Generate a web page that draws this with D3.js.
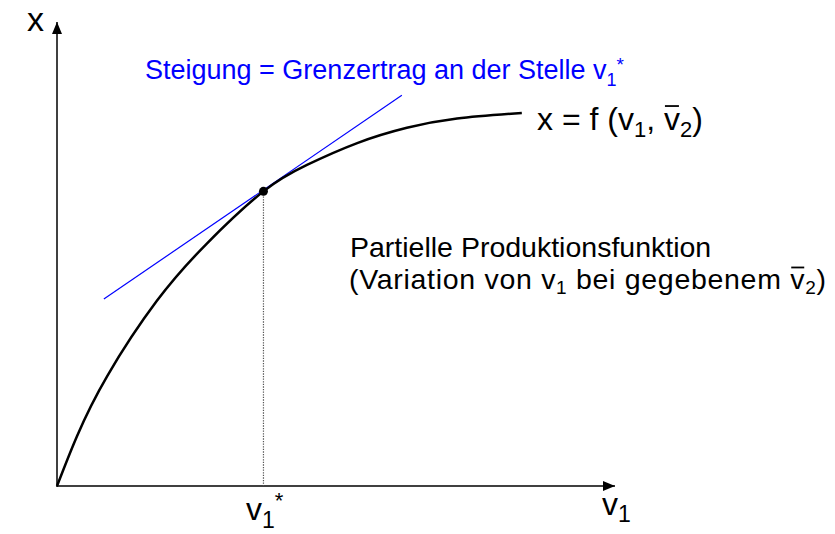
<!DOCTYPE html>
<html>
<head>
<meta charset="utf-8">
<script src="https://cdn.jsdelivr.net/npm/d3@7"></script>
<style>
  body { margin: 0; background: #fff; }
  text { font-family: "Liberation Sans", Arial, sans-serif; }
</style>
</head>
<body>
<div id="chart"></div>
<script>
// partial production function (v1 units, x units)
const curveV1 = [0, 0.36, 0.90, 1.79, 2.69, 3.70, 4.48, 5.38, 6.27, 7.17, 8.33];
const curveX  = [0, 1.08, 2.37, 3.99, 5.23, 6.35, 6.92, 7.39, 7.72, 7.92, 8.04];

// point v1* and its tangent
const vStar = 3.70, xStar = 6.35;
const tangentV1 = [0.84, 6.18];
const tangentX  = [4.03, 8.42];

const width = 835, height = 534;
const blue = "#0000ff";

const svg = d3.select("#chart")
  .append("svg")
  .attr("width", width)
  .attr("height", height);

const x = d3.scaleLinear().domain([0, 10]).range([57, 615]);
const y = d3.scaleLinear().domain([0, 10]).range([486, 22]);

// arrow head
svg.append("defs").append("marker")
  .attr("id", "arrow")
  .attr("viewBox", "0 0 12 10")
  .attr("refX", 12)
  .attr("refY", 5)
  .attr("markerWidth", 12)
  .attr("markerHeight", 10)
  .attr("markerUnits", "userSpaceOnUse")
  .attr("orient", "auto")
  .append("path")
  .attr("d", "M0,0 L12,5 L0,10 Z")
  .attr("fill", "#000");

// axes
svg.append("line")
  .attr("x1", x(0)).attr("y1", y(0) + 1)
  .attr("x2", x(0)).attr("y2", y(10))
  .attr("stroke", "#000").attr("stroke-width", 1.5)
  .attr("marker-end", "url(#arrow)");
svg.append("line")
  .attr("x1", x(0)).attr("y1", y(0))
  .attr("x2", x(10)).attr("y2", y(0))
  .attr("stroke", "#000").attr("stroke-width", 1.5)
  .attr("marker-end", "url(#arrow)");

// dotted drop line
svg.append("line")
  .attr("x1", x(vStar)).attr("y1", y(xStar))
  .attr("x2", x(vStar)).attr("y2", y(0))
  .attr("stroke", "#555").attr("stroke-width", 1.2)
  .attr("stroke-dasharray", "1.3,1.3");

// tangent
svg.append("line")
  .attr("x1", x(tangentV1[0])).attr("y1", y(tangentX[0]))
  .attr("x2", x(tangentV1[1])).attr("y2", y(tangentX[1]))
  .attr("stroke", blue).attr("stroke-width", 1.2);

// curve
const line = d3.line()
  .x((d, i) => x(d))
  .y((d, i) => y(curveX[i]))
  .curve(d3.curveNatural);
svg.append("path")
  .datum(curveV1)
  .attr("d", line)
  .attr("fill", "none")
  .attr("stroke", "#000")
  .attr("stroke-width", 2.5);

svg.append("circle")
  .attr("cx", x(vStar)).attr("cy", y(xStar))
  .attr("r", 4.5)
  .attr("fill", "#000");

// text helpers
function label(px, py, size, color) {
  return svg.append("text")
    .attr("x", px).attr("y", py)
    .attr("font-size", size)
    .attr("fill", color || "#000");
}
function sub(t, s, size, drop) {
  t.append("tspan").attr("font-size", size).attr("dy", drop).text(s);
}
function overbar(t, tspan) {
  const b = tspan.node().getBBox();
  svg.append("line")
    .attr("x1", b.x + 1).attr("x2", b.x + b.width - 1)
    .attr("y1", b.y + b.height * 0.14).attr("y2", b.y + b.height * 0.14)
    .attr("stroke", t.attr("fill")).attr("stroke-width", 1.8);
}

// axis titles
label(27, 31, 34).text("x");

let t = label(602, 515, 32);
t.append("tspan").text("v");
sub(t, "1", 23, 7);

t = label(246, 520, 32);
t.append("tspan").text("v");
sub(t, "1", 23, 8);
t.append("tspan").attr("font-size", 22).attr("dy", -20).text("*");

// tangent note
t = label(145, 79, 27, blue);
t.append("tspan").text("Steigung = Grenzertrag an der Stelle v");
sub(t, "1", 18, 7);
t.append("tspan").attr("font-size", 19).attr("dy", -15).text("*");

// function name
t = label(537, 130, 32);
t.append("tspan").text("x = f (v");
sub(t, "1", 22, 7);
t.append("tspan").attr("dy", -7).text(", ");
let bar = t.append("tspan").text("v");
sub(t, "2", 22, 7);
t.append("tspan").attr("dy", -7).text(")");
overbar(t, bar);

label(350, 257, 28.5).text("Partielle Produktionsfunktion");

t = label(349, 289, 28.5).attr("letter-spacing", 0.7);
t.append("tspan").text("(Variation von v");
sub(t, "1", 19, 5);
t.append("tspan").attr("dy", -5).text(" bei gegebenem ");
bar = t.append("tspan").text("v");
sub(t, "2", 19, 5);
t.append("tspan").attr("dy", -5).text(")");
overbar(t, bar);
</script>
</body>
</html>
